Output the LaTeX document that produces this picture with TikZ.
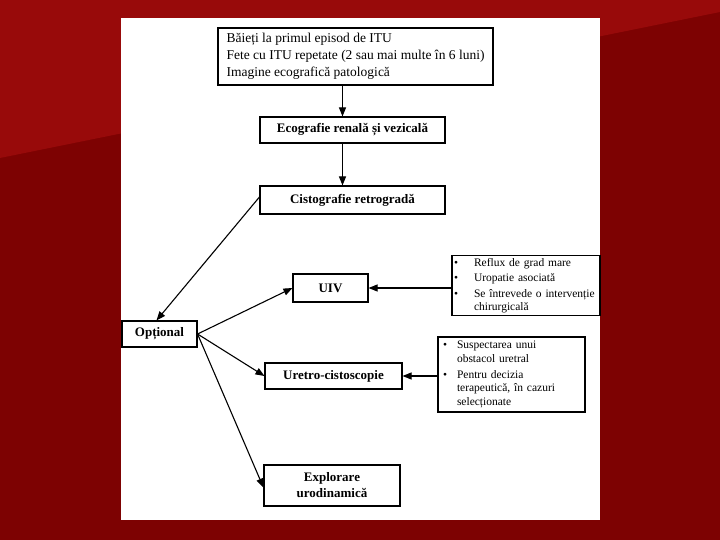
\documentclass[tikz,border=0pt]{standalone}
\usepackage{fontspec}
\setmainfont{Liberation Serif}
\usetikzlibrary{arrows.meta}
\definecolor{bgdark}{RGB}{125,2,2}
\definecolor{bglight}{RGB}{152,10,10}
\begin{document}
\begin{tikzpicture}[x=1pt,y=-1pt,
  box/.style={draw, line width=1.1pt, fill=white, inner sep=0pt, align=center},
  title/.style={font=\fontsize{13}{16}\selectfont\bfseries},
  listfont/.style={font=\fontsize{11.5}{13.5}\selectfont},
  arr/.style={-{Triangle[length=9pt,width=7pt]}, line width=1.1pt},
]
\fill[bgdark] (0,0) rectangle (720,540);
\fill[bglight] (0,0) -- (720,0) -- (720,12) -- (0,158) -- cycle;
\fill[white] (121,18) rectangle (600,520);
\useasboundingbox (0,0) rectangle (720,540);

\node[box, align=left, minimum width=275pt, minimum height=57pt,
      font=\fontsize{13.5}{17}\selectfont] (top) at (355.5,56.5)
  {Băieți la primul episod de ITU\\Fete cu ITU repetate (2 sau mai multe în 6 luni)\\Imagine ecografică patologică};

\node[box, title, minimum width=185pt, minimum height=26pt] (eco) at (352.5,130) {Ecografie renală și vezicală};
\node[box, title, minimum width=185pt, minimum height=28pt] (cisto) at (352.5,200) {Cistografie retrogradă};
\node[box, title, minimum width=75pt, minimum height=28pt] (uiv) at (330.5,288) {UIV};
\node[box, title, minimum width=75pt, minimum height=26pt] (opt) at (159.5,334) {Opțional};
\node[box, title, minimum width=137pt, minimum height=26pt] (uretro) at (333.5,376) {Uretro-cistoscopie};
\node[box, title, minimum width=136pt, minimum height=41pt] (explo) at (332,485.5) {Explorare\\urodinamică};

\node[box, font=\fontsize{11.5}{13}\selectfont, align=left, minimum width=148pt, minimum height=60pt, text width=144pt] (s1) at (526,285.5)
  {\begin{tabular}{@{}p{20pt}@{}l@{}}
   \textbullet & Reflux de grad mare\\[2.5pt]
   \textbullet & Uropatie asociată\\[2.5pt]
   \textbullet & Se întrevede o intervenție\\
               & chirurgicală
   \end{tabular}};

\node[box, listfont, align=left, minimum width=147pt, minimum height=75pt, text width=137pt] (s2) at (511.5,374.5)
  {\begin{tabular}{@{}p{14pt}@{}l@{}}
   \textbullet & Suspectarea unui\\
               & obstacol uretral\\[2.5pt]
   \textbullet & Pentru decizia\\
               & terapeutică, în cazuri\\
               & selecționate
   \end{tabular}};

\coordinate (ax) at (342.5,0);
\draw[arr] (top.south -| ax) -- (eco.north -| ax);
\draw[arr] (eco.south -| ax) -- (cisto.north -| ax);
\draw[arr] ([yshift=3pt]cisto.west) -- ([xshift=-3pt]opt.north);
\draw[arr] (opt.east) -- (uiv.west);
\draw[arr] (opt.east) -- (uretro.west);
\draw[arr] (opt.east) -- ([yshift=-2pt]explo.west);
\draw[arr] (s1.west |- uiv.east) -- (uiv.east);
\draw[arr] (s2.west |- uretro.east) -- (uretro.east);
\end{tikzpicture}
\end{document}
